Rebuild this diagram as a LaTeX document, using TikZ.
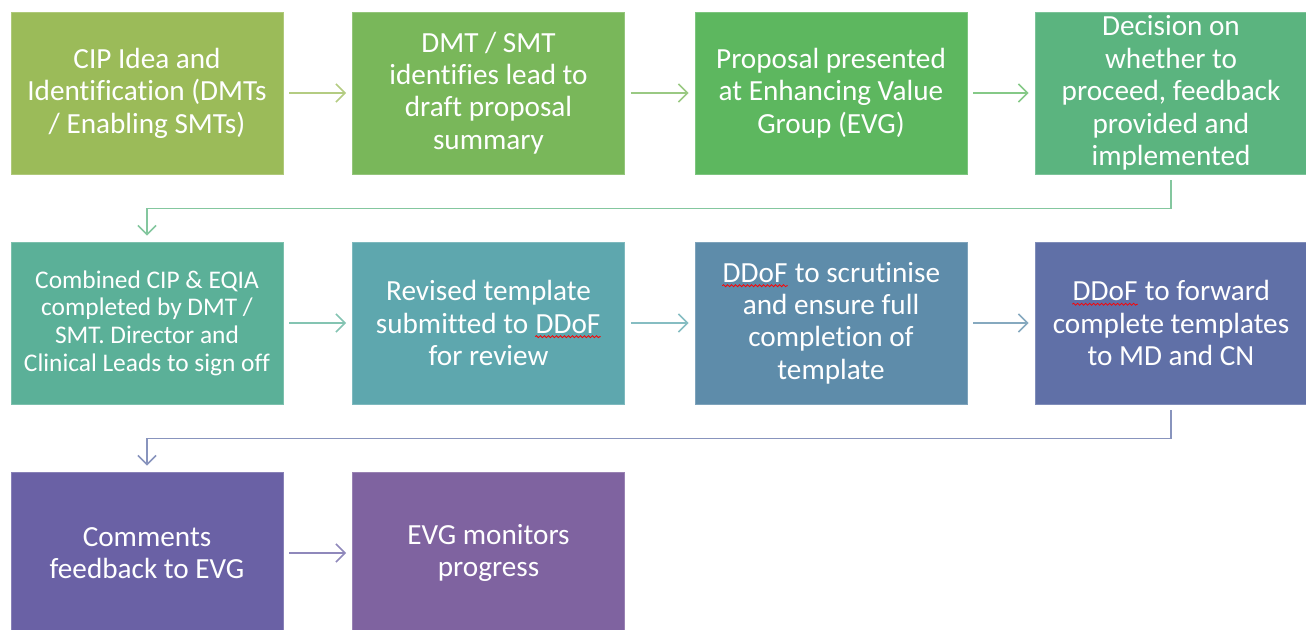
\documentclass[tikz,border=0pt]{standalone}
\usepackage{fontspec}
\setmainfont{Carlito}[Ligatures=NoCommon]
\usepackage{xcolor}
\usetikzlibrary{arrows.meta,decorations.pathmorphing}
\definecolor{cA}{HTML}{9BBB59}
\definecolor{cB}{HTML}{79B75A}
\definecolor{cC}{HTML}{5DB75F}
\definecolor{cD}{HTML}{5BB47F}
\definecolor{cE}{HTML}{5BB098}
\definecolor{cF}{HTML}{5EA7AE}
\definecolor{cG}{HTML}{5E8CAA}
\definecolor{cH}{HTML}{6070A7}
\definecolor{cI}{HTML}{6A61A5}
\definecolor{cJ}{HTML}{7F63A0}
\tikzset{
  stepbox/.style={fill=#1, draw=#1!80!white, line width=0.4pt, text=white,
    minimum width=136pt, minimum height=81pt, inner sep=0pt, align=center,
    font=\fontsize{14.6}{16.2}\selectfont},
  flow/.style={draw=#1!75!white, line width=0.8pt,
    -{Straight Barb[length=4.5pt,width=9pt]}, shorten >=3pt, shorten <=3pt}
}
\newcommand{\wavy}[1]{\tikz[baseline=(w.base)]{%
  \node[inner sep=0pt, minimum width=0pt, minimum height=0pt, fill=none, draw=none] (w) {#1};
  \draw[red, line width=0.4pt, decorate, decoration={snake, amplitude=0.5pt, segment length=2pt}]
    ([yshift=-1.8pt]w.base west) -- ([yshift=-1.8pt]w.base east);}}

\begin{document}
\begin{tikzpicture}[x=0.5pt, y=-0.5pt]
	\useasboundingbox (0,0) rectangle (1306,630);
	\node [stepbox=cA] (S1) at (147, 93) {CIP Idea and\\Identification (DMTs\\/ Enabling SMTs)};
	\node [stepbox=cB] (S2) at (488.5, 93) {DMT / SMT\\identifies lead to\\draft proposal\\summary};
	\node [stepbox=cC] (S3) at (831, 93) {Proposal presented\\at Enhancing Value\\Group (EVG)};
	\node [stepbox=cD] (S4) at (1171, 93) {Decision on\\whether to\\proceed, feedback\\provided and\\implemented};
	\node [stepbox=cE, font=\fontsize{12.7}{13.8}\selectfont] (S5) at (147, 323) {Combined CIP \& EQIA\\completed by DMT /\\SMT. Director and\\Clinical Leads to sign off};
	\node [stepbox=cF] (S6) at (488.5, 323) {Revised template\\submitted to \wavy{DDoF}\\for review};
	\node [stepbox=cG] (S7) at (831, 323) {\wavy{DDoF} to scrutinise\\and ensure full\\completion of\\template};
	\node [stepbox=cH] (S8) at (1171, 323) {\wavy{DDoF} to forward\\complete templates\\to MD and CN};
	\node [stepbox=cI] (S9) at (147, 553) {Comments\\feedback to EVG};
	\node [stepbox=cJ] (S10) at (488.5, 553) {EVG monitors\\progress};
	\draw [flow=cA] (S1) -- (S2);
	\draw [flow=cB] (S2) -- (S3);
	\draw [flow=cC] (S3) -- (S4);
	\draw [flow=cD] (S4.south) -- ++(0, 34) -| (S5.north);
	\draw [flow=cE] (S5) -- (S6);
	\draw [flow=cF] (S6) -- (S7);
	\draw [flow=cG] (S7) -- (S8);
	\draw [flow=cH] (S8.south) -- ++(0, 34) -| (S9.north);
	\draw [flow=cI] (S9) -- (S10);
\end{tikzpicture}
\end{document}
